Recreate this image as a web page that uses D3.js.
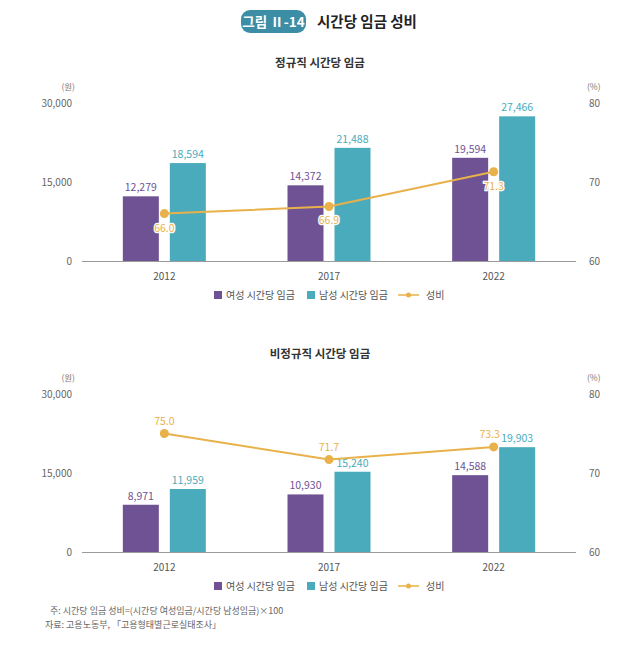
<!DOCTYPE html>
<html><head><meta charset="utf-8">
<script src="https://cdn.jsdelivr.net/npm/d3@7"></script>
<style>
body{margin:0;background:#fff;}
svg{display:block;font-family:"Noto Sans CJK KR","Noto Sans",sans-serif;}
</style></head>
<body><svg id="c" width="640" height="648"></svg>
<script>
const years = ["2012", "2017", "2022"];
const regFemale = [12279, 14372, 19594];
const regMale = [18594, 21488, 27466];
const regRatio = [66.0, 66.9, 71.3];
const nonFemale = [8971, 10930, 14588];
const nonMale = [11959, 15240, 19903];
const nonRatio = [75.0, 71.7, 73.3];
const wageTicks = [0, 15000, 30000];
const ratioTicks = [60, 70, 80];
const legendLabels = ["여성 시간당 임금", "남성 시간당 임금", "성비"];
const panelTitles = ["정규직 시간당 임금", "비정규직 시간당 임금"];

const C_F = "#6e5293", C_M = "#4aabbc", C_L = "#e9b14a";
const svg = d3.select("#c");

// header
svg.append("rect").attr("x", 241).attr("y", 10).attr("width", 65).attr("height", 23).attr("rx", 9).attr("fill", "#3b8ea6");
svg.append("text").attr("x", 273.5).attr("y", 26.5).attr("text-anchor", "middle").attr("fill", "#fff")
  .attr("font-size", 13.5).attr("font-weight", "bold").text("그림 Ⅱ-14");
svg.append("text").attr("x", 317).attr("y", 27).attr("fill", "#222")
  .attr("font-size", 14.5).attr("font-weight", "bold").text("시간당 임금 성비");

function panel(top, title, fem, male, ratio, labelBelow) {
  const g = svg.append("g");
  const y0 = top;
  const x = d3.scaleBand().domain(years).range([82, 576]).padding(0);
  const y = d3.scaleLinear().domain([0, 30000]).range([y0, y0 - 158]);
  const yr = d3.scaleLinear().domain([60, 80]).range([y0, y0 - 158]);
  const bw = 36, off = 23.5;
  const numFont = "'Noto Sans CJK KR',sans-serif";

  g.append("text").attr("x", 320).attr("y", y0 - 194).attr("text-anchor", "middle")
    .attr("font-size", 11.5).attr("font-weight", "bold").attr("fill", "#333").text(title);
  g.append("text").attr("x", 75).attr("y", y0 - 171).attr("text-anchor", "end")
    .attr("font-size", 8.5).attr("fill", "#777").text("(원)");
  g.append("text").attr("x", 587).attr("y", y0 - 171).attr("text-anchor", "start")
    .attr("font-size", 8.5).attr("fill", "#777").text("(%)");

  const ax = g.append("g")
    .call(d3.axisLeft(y).tickValues(wageTicks).tickSize(0).tickPadding(0).tickFormat(d3.format(",")));
  ax.select(".domain").remove();
  ax.selectAll("text").attr("x", 72).attr("font-size", 10).attr("fill", "#666").attr("font-family", numFont);
  const axr = g.append("g")
    .call(d3.axisRight(yr).tickValues(ratioTicks).tickSize(0).tickPadding(0));
  axr.select(".domain").remove();
  axr.selectAll("text").attr("x", 589).attr("font-size", 10).attr("fill", "#666").attr("font-family", numFont);

  const bars = [
    {vals: fem, color: C_F, dx: -off},
    {vals: male, color: C_M, dx: off}
  ];
  bars.forEach(s => {
    g.selectAll(null).data(years).enter().append("rect")
      .attr("x", d => x(d) + x.bandwidth() / 2 + s.dx - bw / 2)
      .attr("y", (d, i) => y(s.vals[i]))
      .attr("width", bw)
      .attr("height", (d, i) => y0 - y(s.vals[i]))
      .attr("fill", s.color);
  });

  g.append("line").attr("x1", 82).attr("x2", 576).attr("y1", y0 + 0.5).attr("y2", y0 + 0.5)
    .attr("stroke", "#9a9a9a").attr("stroke-width", 1);

  const xa = g.append("g").attr("transform", `translate(0,${y0})`)
    .call(d3.axisBottom(x).tickSize(0).tickPadding(12));
  xa.select(".domain").remove();
  xa.selectAll("text").attr("font-size", 10).attr("fill", "#555").attr("font-family", numFont);

  bars.forEach(s => {
    g.selectAll(null).data(years).enter().append("text")
      .attr("x", d => x(d) + x.bandwidth() / 2 + s.dx)
      .attr("y", (d, i) => y(s.vals[i]) - 5)
      .attr("text-anchor", "middle").attr("font-size", 10.5).attr("fill", s.color)
      .text((d, i) => d3.format(",")(s.vals[i]));
  });

  const line = d3.line().x((d, i) => x(years[i]) + x.bandwidth() / 2).y(d => yr(d));
  g.append("path").attr("d", line(ratio)).attr("fill", "none").attr("stroke", C_L).attr("stroke-width", 2);
  g.selectAll(null).data(ratio).enter().append("circle")
    .attr("cx", (d, i) => x(years[i]) + x.bandwidth() / 2).attr("cy", d => yr(d)).attr("r", 4.5).attr("fill", C_L);
  g.selectAll(null).data(ratio).enter().append("text")
    .attr("x", (d, i) => x(years[i]) + x.bandwidth() / 2 - (i === 2 && !labelBelow ? 4 : 0))
    .attr("y", d => labelBelow ? yr(d) + 18 : yr(d) - 9)
    .attr("text-anchor", "middle").attr("font-size", 10.5).attr("fill", C_L)
    .attr("stroke", labelBelow ? "#fff" : "none").attr("stroke-width", 2.5).attr("paint-order", "stroke")
    .text(d => d.toFixed(1));

  // legend
  const ly = y0 + 35;
  const lg = g.append("g");
  lg.append("rect").attr("x", 214).attr("y", ly - 5).attr("width", 8).attr("height", 8).attr("fill", C_F);
  lg.append("text").attr("x", 226).attr("y", ly + 3).attr("font-size", 10).attr("fill", "#555").text(legendLabels[0]);
  lg.append("rect").attr("x", 307).attr("y", ly - 5).attr("width", 8).attr("height", 8).attr("fill", C_M);
  lg.append("text").attr("x", 319).attr("y", ly + 3).attr("font-size", 10).attr("fill", "#555").text(legendLabels[1]);
  lg.append("line").attr("x1", 398).attr("x2", 419).attr("y1", ly - 1).attr("y2", ly - 1).attr("stroke", C_L).attr("stroke-width", 1.5);
  lg.append("circle").attr("cx", 408.5).attr("cy", ly - 1).attr("r", 2.5).attr("fill", C_L);
  lg.append("text").attr("x", 426).attr("y", ly + 3).attr("font-size", 10).attr("fill", "#555").text(legendLabels[2]);
}

panel(261, panelTitles[0], regFemale, regMale, regRatio, true);
panel(552, panelTitles[1], nonFemale, nonMale, nonRatio, false);

svg.append("text").attr("x", 50).attr("y", 614).attr("font-size", 9).attr("fill", "#666")
  .text("주: 시간당 임금 성비=(시간당 여성임금/시간당 남성임금)×100");
svg.append("text").attr("x", 45).attr("y", 628).attr("font-size", 9).attr("fill", "#666")
  .text("자료: 고용노동부, 「고용형태별근로실태조사」");
</script></body></html>
